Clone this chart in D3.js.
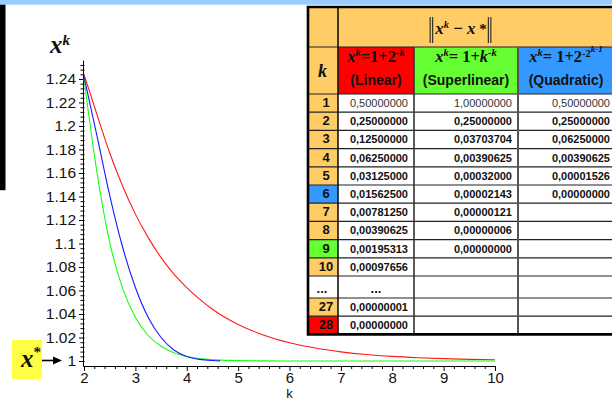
<!DOCTYPE html>
<html>
<head>
<meta charset="utf-8">
<script src="https://cdn.jsdelivr.net/npm/d3@7/dist/d3.min.js"></script>
<style>
  html, body { margin: 0; padding: 0; background: #fff; overflow: hidden; }
  svg { display: block; }
</style>
</head>
<body>
<svg id="chart" width="612" height="401"></svg>
<script>
// ---- curve samples (k, x^k) ----
const kGrid = [2, 2.25, 2.5, 2.75, 3, 3.25, 3.5, 3.75, 4, 4.25, 4.5, 5, 5.5, 6, 6.5, 7, 7.5, 8, 8.5, 9, 9.5, 10];
const linearVals = [1.244, 1.210, 1.177, 1.149, 1.125, 1.105, 1.088, 1.074, 1.0625, 1.0526, 1.044, 1.031, 1.022, 1.0156, 1.011, 1.0078, 1.0055, 1.0039, 1.0028, 1.002, 1.0014, 1.001];
const superVals = [1.240, 1.161, 1.101, 1.062, 1.037, 1.0217, 1.0125, 1.007, 1.0039, 1.0021, 1.0012, 1.0003, 1.0001, 1, 1, 1, 1, 1, 1, 1, 1, 1];
const quadK = [2, 2.25, 2.5, 2.75, 3, 3.25, 3.5, 3.75, 4, 4.25, 4.5, 4.65];
const quadVals = [1.242, 1.192, 1.141, 1.097, 1.0625, 1.037, 1.020, 1.0094, 1.0039, 1.0014, 1.0004, 1.0001];

// ---- axis ticks ----
const yMajor = [1, 1.02, 1.04, 1.06, 1.08, 1.1, 1.12, 1.14, 1.16, 1.18, 1.2, 1.22, 1.24];
const yLabels = ["1", "1.02", "1.04", "1.06", "1.08", "1.1", "1.12", "1.14", "1.16", "1.18", "1.2", "1.22", "1.24"];
const xMajor = [2, 3, 4, 5, 6, 7, 8, 9, 10];
const xLabels = ["2", "3", "4", "5", "6", "7", "8", "9", "10"];

// ---- table ----
const kLabels = ["1", "2", "3", "4", "5", "6", "7", "8", "9", "10", "...", "27", "28"];
const linearErr = ["0,50000000", "0,25000000", "0,12500000", "0,06250000", "0,03125000", "0,01562500", "0,00781250", "0,00390625", "0,00195313", "0,00097656", "...", "0,00000001", "0,00000000"];
const superErr = ["1,00000000", "0,25000000", "0,03703704", "0,00390625", "0,00032000", "0,00002143", "0,00000121", "0,00000006", "0,00000000", "", "", "", ""];
const quadErr = ["0,50000000", "0,25000000", "0,06250000", "0,00390625", "0,00001526", "0,00000000", "", "", "", "", "", "", ""];

const RED = "#ff0000", GREEN = "#66ff33", BLUE = "#3399ff", TAN = "#ffcc66";
const highlightK = { "6": BLUE, "9": GREEN, "28": RED };

const SANS = "'Liberation Sans', Arial, sans-serif";
const SERIF = "'Liberation Serif', 'Times New Roman', serif";

const svg = d3.select("#chart");
svg.append("rect").attr("width", 612).attr("height", 401).attr("fill", "#fff");

// page decorations
svg.append("rect").attr("x", 0).attr("y", 0).attr("width", 612).attr("height", 4.7).attr("fill", "#99ccff");
svg.append("rect").attr("x", 0).attr("y", 4.7).attr("width", 5.5).attr("height", 185.5).attr("fill", "#000");

// ---- plot ----
const x = d3.scaleLinear().domain([1.98, 10]).range([83, 495]);
const y = d3.scaleLinear().domain([0.99574, 1.25617]).range([366, 60]);

const plot = svg.append("g");

// minor ticks
const yMinor = d3.range(1, 64).map(i => 1 + i * 0.004).filter(v => Math.abs(v * 50 - Math.round(v * 50)) > 1e-6);
plot.append("g")
  .attr("transform", "translate(83,0)")
  .call(d3.axisLeft(y).tickValues(yMinor).tickSize(2.5).tickSizeOuter(0).tickFormat(""))
  .call(g => g.select(".domain").remove())
  .call(g => g.selectAll(".tick line").attr("x1", 1.5));

const xMinor = d3.range(0, 41).map(i => 2 + i * 0.2).filter(v => Math.abs(v - Math.round(v)) > 1e-6);
plot.append("g")
  .attr("transform", "translate(0,366)")
  .call(d3.axisBottom(x).tickValues(xMinor).tickSize(3).tickSizeOuter(0).tickFormat(""))
  .call(g => g.select(".domain").remove());

// major axes
const yAxis = plot.append("g")
  .attr("transform", "translate(83,0)")
  .call(d3.axisLeft(y).tickValues(yMajor).tickSize(4).tickPadding(3).tickSizeOuter(0)
    .tickFormat((d, i) => yLabels[i]));
yAxis.selectAll(".tick line").attr("x1", 1.5);

const xAxis = plot.append("g")
  .attr("transform", "translate(0,366)")
  .call(d3.axisBottom(x).tickValues(xMajor).tickSize(5).tickPadding(1.5).tickSizeOuter(0)
    .tickFormat((d, i) => xLabels[i]));

yAxis.selectAll("text").attr("font-family", SANS).attr("font-size", 15.5).attr("fill", "#111");
xAxis.selectAll("text").attr("font-family", SANS).attr("font-size", 15).attr("fill", "#111");
[yAxis, xAxis].forEach(g => g.select(".domain").attr("stroke", "#000"));
plot.selectAll(".tick line").attr("stroke", "#000");

plot.append("text")
  .attr("x", x(6)).attr("y", 398.2)
  .attr("text-anchor", "middle")
  .attr("font-family", SANS).attr("font-size", 13)
  .attr("fill", "#111")
  .text("k");

// curves
const line = d3.line().curve(d3.curveMonotoneX);
function drawCurve(ks, vals, color) {
  plot.append("path")
    .attr("d", line(ks.map((k, i) => [x(k), y(vals[i])])))
    .attr("fill", "none")
    .attr("stroke", color)
    .attr("stroke-width", 1.1);
}
drawCurve(kGrid, linearVals, "#ff1a1a");
drawCurve(kGrid, superVals, "#14ff14");
drawCurve(quadK, quadVals, "#1a1aff");

// x^k label
const xkLabel = svg.append("text")
  .attr("x", 50).attr("y", 53)
  .attr("font-family", SERIF).attr("font-weight", "bold").attr("font-style", "italic")
  .attr("fill", "#111");
xkLabel.append("tspan").attr("font-size", 25).text("x");
xkLabel.append("tspan").attr("font-size", 15).attr("dy", -8).text("k");

// x* marker
svg.append("rect").attr("x", 12).attr("y", 340).attr("width", 30).attr("height", 39).attr("fill", "#ffff44");
const xs = svg.append("text")
  .attr("x", 21).attr("y", 367)
  .attr("font-family", SERIF).attr("font-weight", "bold").attr("font-style", "italic")
  .attr("fill", "#111");
xs.append("tspan").attr("font-size", 25).text("x");
xs.append("tspan").attr("font-size", 15).attr("dy", -10).attr("font-style", "normal").text("*");
svg.append("line").attr("x1", 42).attr("x2", 55).attr("y1", 360.5).attr("y2", 360.5)
  .attr("stroke", "#000").attr("stroke-width", 1.6);
svg.append("path").attr("d", "M53,356.5L62,360.5L53,364.5Z").attr("fill", "#000");

// ---- table ----
const colX = [307, 338, 414, 518, 616];
const headTop = 7, headMid = 47, bodyTop = 94;
const rowH = 18.2, gapH = 22;

const rows = [];
let yy = bodyTop;
kLabels.forEach((k, i) => {
  const h = k === "..." ? gapH : rowH;
  rows.push({ k, top: yy, h, vals: [linearErr[i], superErr[i], quadErr[i]] });
  yy += h;
});
const tableBottom = yy;

const tbl = svg.append("g");

// backgrounds
tbl.append("rect").attr("x", colX[0]).attr("y", headTop).attr("width", colX[4] - colX[0]).attr("height", headMid - headTop).attr("fill", TAN);
[TAN, RED, GREEN, BLUE].forEach((c, i) => {
  tbl.append("rect").attr("x", colX[i]).attr("y", headMid).attr("width", colX[i + 1] - colX[i]).attr("height", bodyTop - headMid).attr("fill", c);
});
tbl.selectAll("rect.kcell")
  .data(rows)
  .join("rect")
  .attr("class", "kcell")
  .attr("x", colX[0]).attr("y", d => d.top)
  .attr("width", colX[1] - colX[0]).attr("height", d => d.h)
  .attr("fill", d => d.k === "..." ? "#fff" : (highlightK[d.k] || TAN));

// horizontal rules
const hLines = [headMid, bodyTop].concat(rows.slice(1).map(r => r.top));
tbl.selectAll("line.h")
  .data(hLines)
  .join("line")
  .attr("x1", colX[0]).attr("x2", colX[4])
  .attr("y1", d => d).attr("y2", d => d)
  .attr("stroke", "#222").attr("stroke-width", 1.2);

// vertical rules
const vStyles = [
  { x: colX[1], y1: headTop, c: "#111", w: 1.6 },
  { x: colX[2], y1: headMid, c: "#333", w: 1.6 },
  { x: colX[3], y1: headMid, c: "#555", w: 2 }
];
vStyles.forEach(v => {
  tbl.append("line").attr("x1", v.x).attr("x2", v.x).attr("y1", v.y1).attr("y2", tableBottom)
    .attr("stroke", v.c).attr("stroke-width", v.w);
});

// outer border
tbl.append("path")
  .attr("d", `M${colX[4]},${headTop}H${colX[0] + 1}V${tableBottom}H${colX[4]}`)
  .attr("fill", "none").attr("stroke", "#000").attr("stroke-width", 2.6);

// rich text helper: parts = [text, {italic, sup, size}]
function rich(parent, cx, by, parts, base) {
  const t = parent.append("text")
    .attr("x", cx).attr("y", by)
    .attr("text-anchor", "middle")
    .attr("font-family", SERIF).attr("font-weight", "bold")
    .attr("font-size", base).attr("fill", "#111");
  let lift = 0;
  parts.forEach(p => {
    const target = p.sup || 0;
    t.append("tspan")
      .attr("dy", lift - target)
      .attr("font-size", p.size || base)
      .attr("font-style", p.italic ? "italic" : "normal")
      .text(p.t);
    lift = target;
  });
  return t;
}

// header row 1: ||x^k - x*||
const normT = rich(tbl, 461, 34, [
  { t: "x", italic: true },
  { t: "k", italic: true, sup: 6, size: 10.5 },
  { t: " \u2212 ", sup: 0 },
  { t: "x", italic: true },
  { t: " *", size: 15 }
], 17);
const nb = normT.node().getBBox();
[nb.x - 4, nb.x - 1.5, nb.x + nb.width + 1.5, nb.x + nb.width + 4].forEach(bx => {
  tbl.append("line").attr("x1", bx).attr("x2", bx).attr("y1", 17).attr("y2", 43)
    .attr("stroke", "#222").attr("stroke-width", 1.1);
});

// header row 2
tbl.append("text")
  .attr("x", 322.5).attr("y", 77)
  .attr("text-anchor", "middle")
  .attr("font-family", SERIF).attr("font-weight", "bold").attr("font-style", "italic")
  .attr("font-size", 18).attr("fill", "#111")
  .text("k");

const hdrBase = 62, subBase = 85;
const cc = i => (colX[i] + colX[i + 1]) / 2;
rich(tbl, cc(1), hdrBase, [
  { t: "x", italic: true },
  { t: "k", italic: true, sup: 6, size: 10.5 },
  { t: "=1+2" },
  { t: "-k", italic: true, sup: 6, size: 10.5 }
], 16.5);
rich(tbl, cc(2), hdrBase, [
  { t: "x", italic: true },
  { t: "k", italic: true, sup: 6, size: 10.5 },
  { t: "= 1+" },
  { t: "k", italic: true },
  { t: "-k", italic: true, sup: 6, size: 10.5 }
], 16.5);
rich(tbl, 566, hdrBase, [
  { t: "x", italic: true },
  { t: "k", italic: true, sup: 6, size: 10.5 },
  { t: "= 1+2" },
  { t: "-2", sup: 5, size: 10.5 },
  { t: "k-1", italic: true, sup: 10, size: 9 }
], 16.5);

const subs = ["(Linear)", "(Superlinear)", "(Quadratic)"];
subs.forEach((s, i) => {
  tbl.append("text")
    .attr("x", i === 2 ? 566 : cc(i + 1)).attr("y", subBase)
    .attr("text-anchor", "middle")
    .attr("font-family", SANS).attr("font-weight", "bold")
    .attr("font-size", 14).attr("fill", "#111")
    .text(s);
});

// body text
rows.forEach((r, ri) => {
  const gap = r.k === "...";
  const base = r.top + r.h - (gap ? 5 : 5.2);
  tbl.append("text")
    .attr("x", gap ? 322 : 326).attr("y", base)
    .attr("text-anchor", "middle")
    .attr("font-family", SANS).attr("font-weight", "bold")
    .attr("font-size", 13).attr("fill", "#111")
    .text(r.k);
  r.vals.forEach((v, c) => {
    if (!v) return;
    const t = tbl.append("text")
      .attr("y", base)
      .attr("font-family", SANS)
      .attr("font-weight", ri === 0 ? "normal" : "bold")
      .attr("font-size", 11)
      .attr("fill", ri === 0 ? "#333" : "#111")
      .text(v);
    if (v === "...") t.attr("x", cc(c + 1)).attr("text-anchor", "middle").attr("font-size", 13);
    else t.attr("x", colX[c + 2] - 6).attr("text-anchor", "end");
  });
});
</script>
</body>
</html>
